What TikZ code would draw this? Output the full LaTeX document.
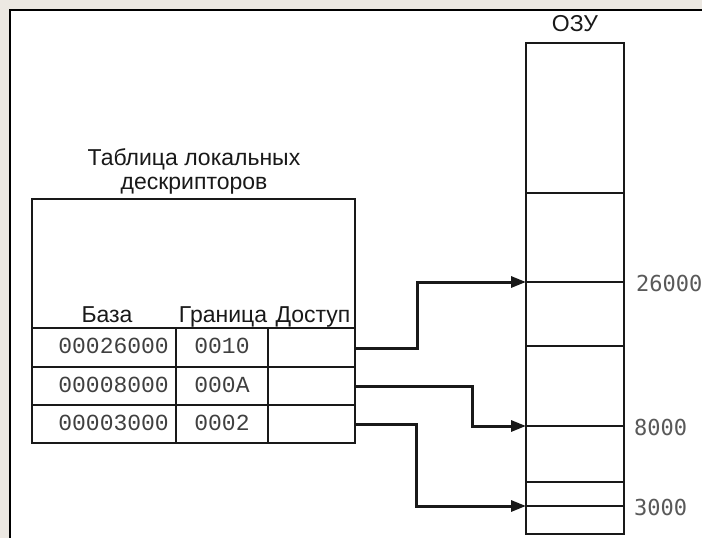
\documentclass[tikz,border=0pt]{standalone}
\usepackage{fontspec}
\setmainfont{Liberation Sans}
\newfontfamily\tabmono{Liberation Mono}
\newfontfamily\memmono{DejaVu Sans Mono}
\usetikzlibrary{arrows.meta}
\definecolor{framebg}{RGB}{236,232,226}
\definecolor{ink}{RGB}{25,25,25}
\begin{document}
\begin{tikzpicture}[x=1pt,y=-1pt,
  thinline/.style={draw=ink,line width=1.8pt},
  conn/.style={draw=ink,line width=3pt,-{Triangle[length=15pt,width=11pt]}},
  head/.style={font=\fontsize{23}{24}\selectfont,text=ink,inner sep=0pt,anchor=base},
  num/.style={font=\tabmono\fontsize{23}{24}\selectfont,text=black!75,inner sep=0pt},
  memlab/.style={font=\memmono\fontsize{22}{24}\selectfont,text=black!65,inner sep=0pt,anchor=base west}]
\useasboundingbox (0,0) rectangle (702,538);
\fill[framebg] (0,0) rectangle (702,538);
\fill[white] (10,10) rectangle (702,538);
\draw[black,line width=2.5pt] (10,538) -- (10,10) -- (702,10);

% title
\node[head,align=center,anchor=base] (title) at (194,189) {Таблица локальных\\дескрипторов};

% table
\draw[thinline] (32,199) rectangle (355,443);
\draw[thinline] (32,328) -- (355,328);
\draw[thinline] (32,367) -- (355,367);
\draw[thinline] (32,405) -- (355,405);
\draw[thinline] (176,328) -- (176,443);
\draw[thinline] (268,328) -- (268,443);

\node[head] (hbase) at (107,322) {База};
\node[head] (hlim) at (223,322) {Граница};
\node[head] (hacc) at (313,322) {Доступ};

\node[num,anchor=base east] (b1) at (169,353.5) {00026000};
\node[num,anchor=base east] (b2) at (169,392) {00008000};
\node[num,anchor=base east] (b3) at (169,430) {00003000};
\node[num,anchor=base] (l1) at (222,353.5) {0010};
\node[num,anchor=base] (l2) at (222,392) {000A};
\node[num,anchor=base] (l3) at (222,430) {0002};

\coordinate (a1) at (355,348);
\coordinate (a2) at (355,386);
\coordinate (a3) at (355,424);

% RAM
\node[head] (ozu) at (575,31) {ОЗУ};
\draw[thinline] (526,43) rectangle (624,534);
\draw[thinline] (526,193) -- (624,193);
\draw[thinline] (526,282) -- (624,282);
\draw[thinline] (526,346) -- (624,346);
\draw[thinline] (526,426) -- (624,426);
\draw[thinline] (526,482) -- (624,482);
\draw[thinline] (526,506) -- (624,506);

\coordinate (m1) at (526,282);
\coordinate (m2) at (526,426);
\coordinate (m3) at (526,506);

\node[memlab] (lab1) at (636,291) {26000};
\node[memlab] (lab2) at (634,435) {8000};
\node[memlab] (lab3) at (634,515) {3000};

% connectors
\draw[conn] (a1) -- (417,348) -- (417,282) -- (m1);
\draw[conn] (a2) -- (472,386) -- (472,426) -- (m2);
\draw[conn] (a3) -- (416,424) -- (416,506) -- (m3);
\end{tikzpicture}
\end{document}
